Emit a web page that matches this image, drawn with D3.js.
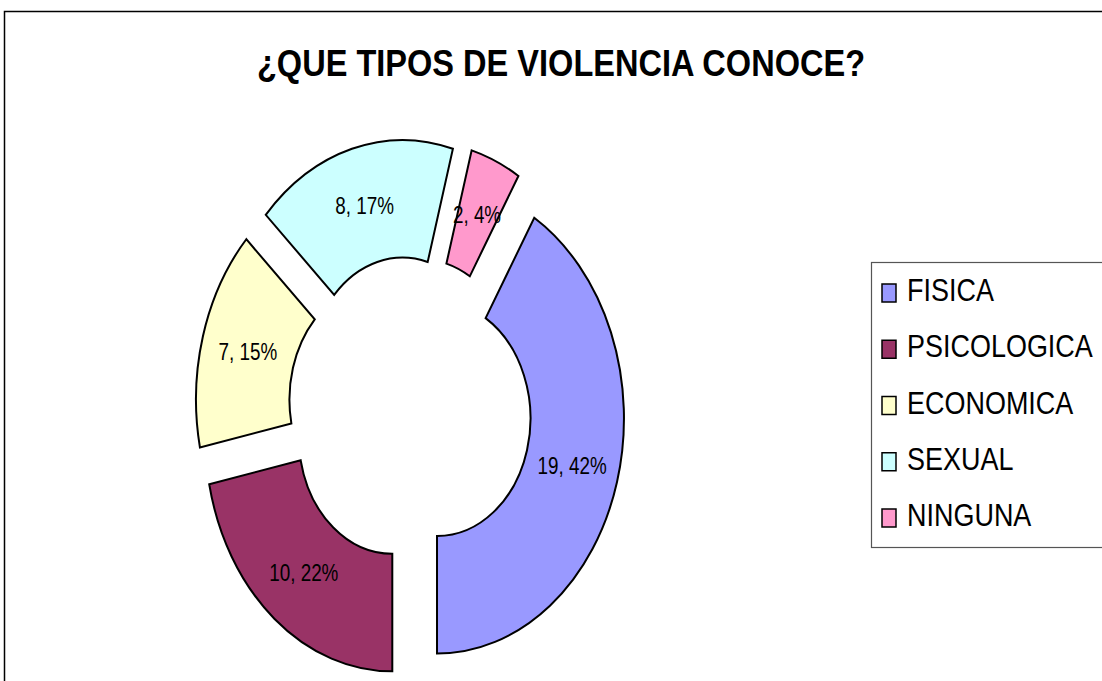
<!DOCTYPE html>
<html>
<head>
<meta charset="utf-8">
<script src="https://cdn.jsdelivr.net/npm/d3@7"></script>
<style>
  html, body { margin: 0; padding: 0; background: #fff; }
  svg { display: block; }
  text { font-family: "Liberation Sans", Arial, sans-serif; }
</style>
</head>
<body>
<svg id="chart" width="1102" height="681"></svg>
<script>
// ---- data ----
const categories = ["FISICA", "PSICOLOGICA", "ECONOMICA", "SEXUAL", "NINGUNA"];
const values = [19, 10, 7, 8, 2];
const percentLabels = ["42%", "22%", "15%", "17%", "4%"];
const colors = ["#9999FF", "#993366", "#FFFFCC", "#CCFFFF", "#FF99CC"];
const title = "¿QUE TIPOS DE VIOLENCIA CONOCE?";

// ---- layout ----
const W = 1102, H = 681;
const cx = 410, cy = 409;       // donut centre
const rx = 187, ry = 235;       // outer radii (chart is stretched vertically)
const innerFrac = 0.5;
const explode = 0.15;
const firstSliceDeg = 31.3;

const svg = d3.select("#chart");

// outer frame
svg.append("rect")
  .attr("x", 4.5).attr("y", 11.5)
  .attr("width", W + 50).attr("height", H + 50)
  .attr("fill", "#fff").attr("stroke", "#000").attr("stroke-width", 1.5);

// title
svg.append("g")
  .attr("transform", `translate(561,76) scale(0.93,1.05)`)
  .append("text")
  .attr("text-anchor", "middle")
  .attr("font-size", 35).attr("font-weight", "bold")
  .attr("fill", "#000")
  .text(title);

const start = firstSliceDeg * Math.PI / 180;
const pie = d3.pie().sort(null).value(d => d.v)
  .startAngle(start).endAngle(start + 2 * Math.PI);
const data = categories.map((c, i) => ({ c, v: values[i], p: percentLabels[i], col: colors[i] }));
const arcs = pie(data);

const arc = d3.arc().innerRadius(innerFrac).outerRadius(1);
const labelArc = d3.arc().innerRadius(0.75).outerRadius(0.75);

const offset = d => {
  const mid = (d.startAngle + d.endAngle) / 2;
  return [cx + Math.sin(mid) * explode * rx, cy - Math.cos(mid) * explode * ry];
};

const slices = svg.append("g").selectAll("g.slice")
  .data(arcs).join("g")
  .attr("class", "slice")
  .attr("transform", d => {
    const [ox, oy] = offset(d);
    return `translate(${ox},${oy}) scale(${rx},${ry})`;
  });

slices.append("path")
  .attr("d", arc)
  .attr("fill", d => d.data.col)
  .attr("stroke", "#000")
  .attr("stroke-width", 2)
  .attr("stroke-linejoin", "miter")
  .attr("vector-effect", "non-scaling-stroke");

// data labels
svg.append("g").selectAll("g.lbl")
  .data(arcs).join("g")
  .attr("class", "lbl")
  .attr("transform", d => {
    const [ox, oy] = offset(d);
    const [lx, ly] = labelArc.centroid(d);
    return `translate(${ox + lx * rx},${oy + ly * ry}) scale(0.82,1)`;
  })
  .append("text")
  .attr("text-anchor", "middle")
  .attr("dy", "0.36em")
  .attr("font-size", 23)
  .attr("fill", "#000")
  .text(d => `${d.data.v}, ${d.data.p}`);

// legend
const legX = 871, legY = 262;
svg.append("rect")
  .attr("x", legX + 0.5).attr("y", legY + 0.5)
  .attr("width", 300).attr("height", 285)
  .attr("fill", "#fff").attr("stroke", "#555").attr("stroke-width", 1.2);

const legendScale = d3.scalePoint().domain(categories).range([301, 526]);
const items = svg.append("g").selectAll("g.item")
  .data(data).join("g")
  .attr("class", "item")
  .attr("transform", d => `translate(0,${legendScale(d.c)})`);

items.append("rect")
  .attr("x", 882).attr("y", -17)
  .attr("width", 14).attr("height", 18)
  .attr("fill", d => d.col)
  .attr("stroke", "#000").attr("stroke-width", 1.5);

items.append("g")
  .attr("transform", "translate(907,0) scale(0.87,1.04)")
  .append("text")
  .attr("font-size", 31)
  .attr("fill", "#000")
  .text(d => d.c);
</script>
</body>
</html>
